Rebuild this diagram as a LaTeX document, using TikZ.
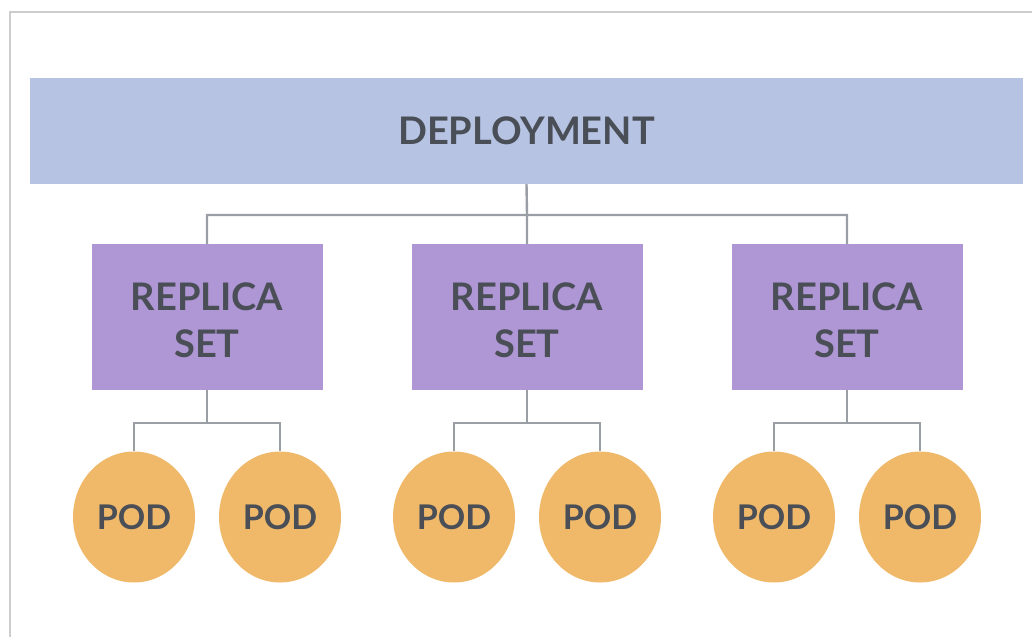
\documentclass[tikz,border=0pt]{standalone}
\usepackage{fontspec}
\setmainfont{Lato}
\usetikzlibrary{shapes.geometric}
\definecolor{deplfill}{HTML}{B6C3E2}
\definecolor{rsfill}{HTML}{AF96D4}
\definecolor{podfill}{HTML}{F0B96A}
\definecolor{inkgray}{HTML}{4A4E57}
\definecolor{wiregray}{HTML}{9A9FA6}
\definecolor{framegray}{HTML}{CDCDCD}
\begin{document}
\begin{tikzpicture}[x=1pt,y=-1pt,
  label text/.style={text=inkgray,font=\fontsize{38pt}{47pt}\selectfont\bfseries,align=center},
  deplbar/.style={label text,fill=deplfill,minimum width=993pt,minimum height=106pt,inner sep=0pt},
  rsbox/.style={label text,fill=rsfill,minimum width=231pt,minimum height=146pt,inner sep=0pt,text height=82pt},
  podnode/.style={label text,ellipse,fill=podfill,minimum width=122pt,minimum height=131pt,inner sep=0pt,font=\fontsize{34pt}{40pt}\selectfont\bfseries},
  wire/.style={wiregray,line width=2.4pt}]
\useasboundingbox (0,0) rectangle (1032,637);
\draw[framegray,line width=2pt] (10,637)--(10,12)--(1032,12);
\node[deplbar] (depl) at (526.5,131) {DEPLOYMENT};
\node[rsbox] (rs1) at (207,317) {REPLICA\\SET};
\node[rsbox] (rs2) at (527,317) {REPLICA\\SET};
\node[rsbox] (rs3) at (847,317) {REPLICA\\SET};
\node[podnode] (pod1) at (134,517) {POD};
\node[podnode] (pod2) at (280,517) {POD};
\node[podnode] (pod3) at (454,517) {POD};
\node[podnode] (pod4) at (600,517) {POD};
\node[podnode] (pod5) at (774,517) {POD};
\node[podnode] (pod6) at (920,517) {POD};
\coordinate (hub) at (527,215);
\draw[wire] (depl.south)--(hub)--(rs2.north) (hub)-|(rs1.north) (hub)-|(rs3.north);
\draw[wire] (rs1.south)--++(0,33)coordinate(j1) (j1)-|(pod1.north) (j1)-|(pod2.north);
\draw[wire] (rs2.south)--++(0,33)coordinate(j2) (j2)-|(pod3.north) (j2)-|(pod4.north);
\draw[wire] (rs3.south)--++(0,33)coordinate(j3) (j3)-|(pod5.north) (j3)-|(pod6.north);
\end{tikzpicture}
\end{document}
